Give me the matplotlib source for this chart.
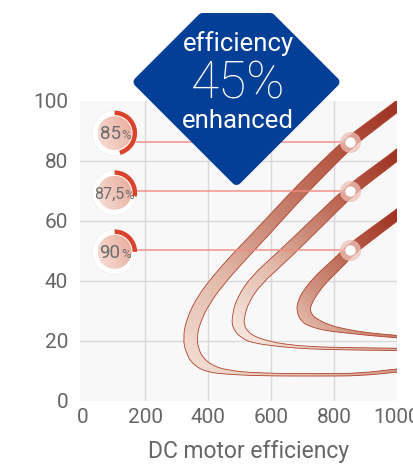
import numpy as np
import matplotlib
matplotlib.use('Agg')
import matplotlib.pyplot as plt
import matplotlib.transforms as mtrans
from matplotlib.path import Path
from matplotlib.patches import PathPatch, Circle, Wedge, Polygon
from matplotlib.colors import LinearSegmentedColormap

plt.rcParams['font.family'] = ['Roboto', 'DejaVu Sans']

# axis ticks
x_ticks = [0, 200, 400, 600, 800, 1000]
y_ticks = [0, 20, 40, 60, 80, 100]

# centre lines of the three bands
curve1_x = [1025, 994, 922, 851, 749, 666, 579, 491, 432, 385, 353, 341, 350, 370, 405, 456, 561, 755, 882, 994, 1041]
curve1_y = [100.1, 97.6, 91.9, 86.3, 75.9, 66.9, 56.9, 47.2, 40.2, 33.6, 26.9, 20.9, 16.2, 12.9, 10.7, 9.5, 8.7, 8.6, 8.7, 10.0, 10.4]
curve2_x = [1025, 994, 922, 851, 749, 631, 552, 510, 496, 494, 517, 552, 596, 638, 723, 851, 994, 1041]
curve2_y = [84.1, 81.3, 75.7, 70.0, 59.6, 47.6, 40.2, 33.6, 28.6, 24.9, 21.7, 20.1, 19.1, 18.4, 17.6, 17.3, 17.1, 17.1]
curve3_x = [1025, 994, 922, 851, 822, 789, 755, 722, 706, 702, 712, 733, 781, 844, 908, 994, 1041]
curve3_y = [63.9, 61.4, 55.8, 50.2, 46.9, 43.6, 40.2, 35.8, 32.6, 30.2, 27.6, 26.1, 24.2, 23.1, 22.2, 21.4, 21.1]

# marked points and their labels
pts_x = [850, 850, 850]
pts_y = [86.3, 70.0, 50.2]
badge_labels = ['85', '87,5', '90']
badge_y = [89.2, 69.3, 49.6]

# band thickness along each curve (px)
w1 = [10, 10, 10.5, 11, 12, 12.5, 13, 13.5, 13.5, 14, 14, 14, 13.5, 12, 8, 4, 2.6, 2.4, 2.6, 3.2, 3.2]
w2 = [10, 10, 10.5, 11, 12, 12.5, 12.5, 12.5, 12.5, 12.5, 9, 6, 4, 3, 2.4, 2.3, 2.3, 2.3]
w3 = [10, 10, 10.5, 11, 11.5, 12, 12.5, 13.5, 14, 14, 13, 10, 6, 3.5, 2.6, 2.4, 2.4]

fig = plt.figure(figsize=(4.14, 4.65), dpi=100)
ax = fig.add_axes([80 / 414, 1 - 400.7 / 465, 317 / 414, 300 / 465])
ax.set_xlim(-8, 1000)
ax.set_ylim(0, 100)
ax.set_facecolor('#f8f8f8')
for s in ax.spines.values():
    s.set_visible(False)
ax.set_xticks(x_ticks)
ax.set_yticks(y_ticks)
ax.tick_params(length=0, labelsize=15, colors='#666666')
ax.tick_params(axis='y', pad=8.5)
ax.tick_params(axis='x', pad=5)
ax.grid(color='#d9d9d9', lw=1.0)
ax.set_axisbelow(True)
for g in (ax.xaxis.get_gridlines()[0], ax.xaxis.get_gridlines()[-1],
          ax.yaxis.get_gridlines()[0], ax.yaxis.get_gridlines()[-1]):
    g.set_visible(False)
ax.set_xlabel('DC motor efficiency', fontsize=16.5, color='#666666')
ax.xaxis.set_label_coords(0.533, -0.13)


def spline(p):
    v = [p[0], (p[0] + p[1]) / 2]
    c = [Path.MOVETO, Path.LINETO]
    for i in range(1, len(p) - 1):
        v += [p[i], (p[i] + p[i + 1]) / 2]
        c += [Path.CURVE3, Path.CURVE3]
    v.append(p[-1])
    c.append(Path.LINETO)
    return v, c


def band_path(xs, ys, ws):
    c = ax.transData.transform(np.column_stack([xs, ys]))
    t = np.gradient(c, axis=0)
    t /= np.linalg.norm(t, axis=1)[:, None]
    n = np.column_stack([-t[:, 1], t[:, 0]])
    h = np.asarray(ws)[:, None] / 2
    inv = ax.transData.inverted()
    a = inv.transform(c + n * h)
    b = inv.transform(c - n * h)
    va, ca = spline(a)
    vb, cb = spline(b[::-1])
    cb[0] = Path.LINETO
    return Path(va + vb + [a[0]], ca + cb + [Path.CLOSEPOLY])


band_cmap = LinearSegmentedColormap.from_list('band', [
    (0.0, '#f4e2d9'), (0.3, '#e2b8a8'), (0.45, '#d09482'),
    (0.75, '#b65c47'), (1.0, '#a03424')])

sx = ax.transData.transform((1, 0))[0] - ax.transData.transform((0, 0))[0]
sy = ax.transData.transform((0, 1))[1] - ax.transData.transform((0, 0))[1]
gx, gy = np.meshgrid(np.linspace(-8, 1000, 400), np.linspace(0, 100, 300))

curves = [(curve1_x, curve1_y, w1, 11, 1, 0.1),
          (curve2_x, curve2_y, w2, 9, 1, 0.0),
          (curve3_x, curve3_y, w3, 9, 1, 0.35)]
for xs, ys, ws, iv, it, t0 in curves:
    vx, vy = xs[iv], ys[iv]
    tx, ty = xs[it], ys[it]
    dvx, dvy = (tx - vx) * sx, (ty - vy) * sy
    proj = ((gx - vx) * sx * dvx + (gy - vy) * sy * dvy) / (dvx ** 2 + dvy ** 2)
    tt = np.clip(t0 + (1 - t0) * proj, 0, 1)
    im = ax.imshow(tt, extent=[-8, 1000, 0, 100], origin='lower', cmap=band_cmap,
                   vmin=0, vmax=1, aspect='auto', zorder=2, interpolation='bilinear')
    patch = PathPatch(band_path(xs, ys, ws), facecolor='none', edgecolor='#b0412c',
                      lw=0.6, zorder=2.1)
    ax.add_patch(patch)
    im.set_clip_path(patch)

ax.set_xlim(-8, 1000)
ax.set_ylim(0, 100)

# connector lines and points
ax.hlines(pts_y, 150, pts_x, color='#f08a82', lw=1.2, alpha=0.85, zorder=3)
ax.scatter(pts_x, pts_y, s=230, color='#efc2ba', alpha=0.75, zorder=4, lw=0)
ax.scatter(pts_x, pts_y, s=55, color='white', zorder=5, lw=0)

# badges
disc_cmap = LinearSegmentedColormap.from_list('disc', ['#f7e0d8', '#e8a999'])
arcs = [165, 100, 90]
for lab, by, arc in zip(badge_labels, badge_y, arcs):
    T = mtrans.ScaledTranslation(102, by, ax.transData)
    ax.add_patch(Circle((0, 0), 22.5, transform=T, facecolor='white', edgecolor='#eeeeee',
                        lw=0.5, zorder=6))
    disc = Circle((0, 0), 17, transform=T, facecolor='none', edgecolor='none', zorder=6.1)
    ax.add_patch(disc)
    rx, ry = 17 / sx, 17 / sy
    g = np.linspace(0, 1, 50)
    img = np.add.outer(g * 0.3, g * 0.7)
    dim = ax.imshow(img, extent=[102 - rx, 102 + rx, by - ry, by + ry], origin='lower',
                    cmap=disc_cmap, aspect='auto', zorder=6.1)
    dim.set_clip_path(disc)
    ax.add_patch(Wedge((0, 0), 22.5, 90 - arc, 90, width=4.5, transform=T,
                       facecolor='#d9432b', edgecolor='none', zorder=6.2))
    split = 9.5 if ',' in lab else 6
    fs = 11.5 if ',' in lab else 13.5
    ax.text(split, -6, lab, transform=T, ha='right', va='baseline', fontsize=fs,
            color='#6b6b6b', zorder=7)
    ax.text(split + 0.5, -6, '%', transform=T, ha='left', va='baseline', fontsize=9.5,
            color='#6b6b6b', zorder=7)

ax.set_xlim(-8, 1000)
ax.set_ylim(0, 100)

# blue diamond
dia = [(202.5, 18), (270.5, 18), (334.5, 82), (236.5, 180), (138.5, 82)]
dia = [(x / 414, 1 - y / 465) for x, y in dia]
fig.add_artist(Polygon(dia, closed=True, transform=fig.transFigure, facecolor='#033f96',
                       edgecolor='#033f96', lw=7.2, joinstyle='round', zorder=10))
fig.text(238.3 / 414, 1 - 51 / 465, 'efficiency', color='white', fontsize=18.5,
         ha='center', va='baseline', zorder=11)
fig.text(238.3 / 414, 1 - 98.5 / 465, '45%', color='white', fontsize=37,
         fontweight='light', ha='center', va='baseline', zorder=11)
fig.text(238.3 / 414, 1 - 128.3 / 465, 'enhanced', color='white', fontsize=18.5,
         ha='center', va='baseline', zorder=11)

fig.savefig('out.png', dpi=100)
